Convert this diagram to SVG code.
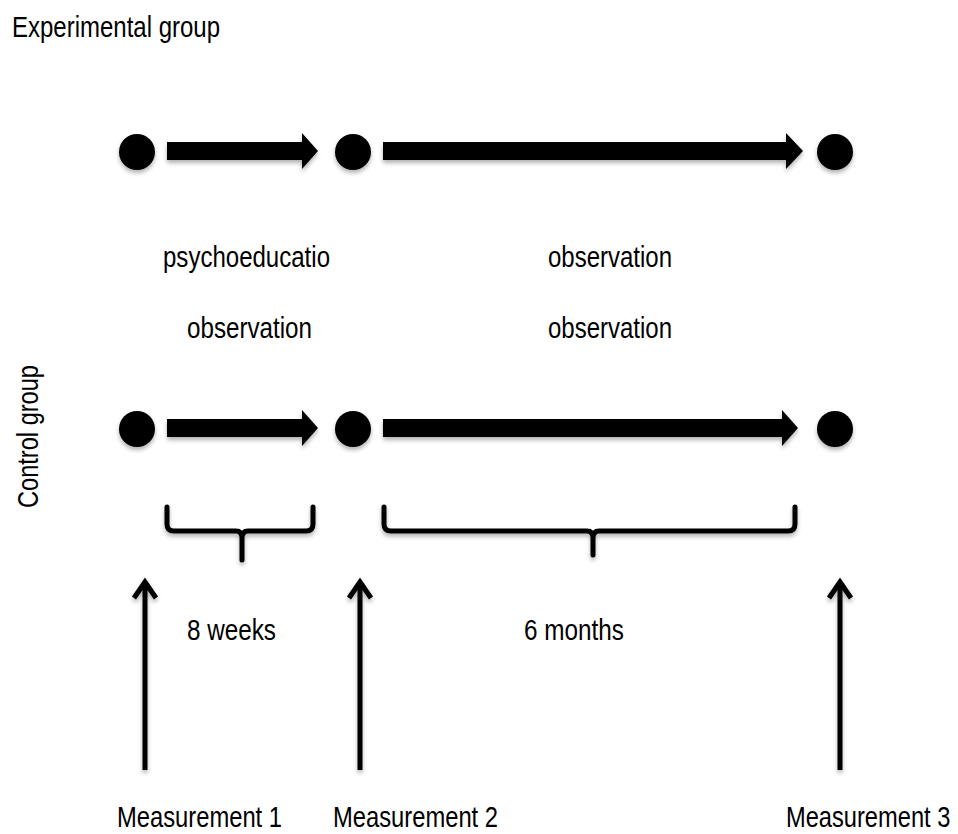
<svg xmlns="http://www.w3.org/2000/svg" width="958" height="834" viewBox="0 0 958 834">
<style>
text{font-family:"Liberation Sans",Arial,sans-serif;font-size:29px;fill:#000}
.dot{fill:#000}
.blk{fill:#000}
.br{fill:none;stroke:#000;stroke-width:5;stroke-linecap:round;stroke-linejoin:round}
.va{fill:none;stroke:#000;stroke-width:5;stroke-linecap:butt;stroke-linejoin:miter}
</style>
<defs>
<filter id="sh" x="-20%" y="-20%" width="140%" height="160%">
<feDropShadow dx="0" dy="3" stdDeviation="2" flood-color="#000" flood-opacity="0.3"/>
</filter>
</defs>
<rect width="958" height="834" fill="#fff"/>
<text x="12" y="37" textLength="208" lengthAdjust="spacingAndGlyphs">Experimental group</text>
<text transform="translate(38,508) rotate(-90)" textLength="143" lengthAdjust="spacingAndGlyphs">Control group</text>

<g id="exp-m1" filter="url(#sh)"><circle class="dot" cx="137" cy="152" r="18"/></g>
<g id="exp-m2" filter="url(#sh)"><circle class="dot" cx="353" cy="152" r="18"/></g>
<g id="exp-m3" filter="url(#sh)"><circle class="dot" cx="835" cy="152" r="18"/></g>
<g id="ctl-m1" filter="url(#sh)"><circle class="dot" cx="137" cy="429" r="18"/></g>
<g id="ctl-m2" filter="url(#sh)"><circle class="dot" cx="353" cy="429" r="18"/></g>
<g id="ctl-m3" filter="url(#sh)"><circle class="dot" cx="835" cy="429" r="18"/></g>

<g id="connectors" filter="url(#sh)">
<polygon class="blk" points="167,142 302,142 302,133 318,151 302,169 302,160 167,160"/>
<polygon class="blk" points="383,142 786,142 786,133 803,151 786,169 786,160 383,160"/>
<polygon class="blk" points="167,419 302,419 302,410 318,428 302,446 302,437 167,437"/>
<polygon class="blk" points="383,419 782,419 782,410 798,428 782,446 782,437 383,437"/>
<path class="br" d="M167,507 V524 Q167,531 174,531 H236 Q242,531 242,538 V560 M242,538 Q242,531 248,531 H306 Q313,531 313,524 V507"/>
<path class="br" d="M384,507 V524 Q384,531 391,531 H587 Q593,531 593,538 V555 M593,538 Q593,531 599,531 H788 Q795,531 795,524 V507"/>
<path class="va" d="M145,770 V583 M134,598 L145,582 L156,598"/>
<path class="va" d="M360,770 V583 M349,598 L360,582 L371,598"/>
<path class="va" d="M840,770 V583 M829,598 L840,582 L851,598"/>
</g>

<g id="labels">
<text x="163" y="267" textLength="167" lengthAdjust="spacingAndGlyphs">psychoeducatio</text>
<text x="548" y="267" textLength="124" lengthAdjust="spacingAndGlyphs">observation</text>
<text x="187" y="338" textLength="125" lengthAdjust="spacingAndGlyphs">observation</text>
<text x="548" y="338" textLength="124" lengthAdjust="spacingAndGlyphs">observation</text>
<text x="187" y="640" textLength="89" lengthAdjust="spacingAndGlyphs">8 weeks</text>
<text x="524" y="640" textLength="100" lengthAdjust="spacingAndGlyphs">6 months</text>
<text x="117" y="827" textLength="165" lengthAdjust="spacingAndGlyphs">Measurement 1</text>
<text x="333" y="827" textLength="165" lengthAdjust="spacingAndGlyphs">Measurement 2</text>
<text transform="translate(786,827) scale(0.816,1)">Measurement 3</text>
</g>
</svg>
